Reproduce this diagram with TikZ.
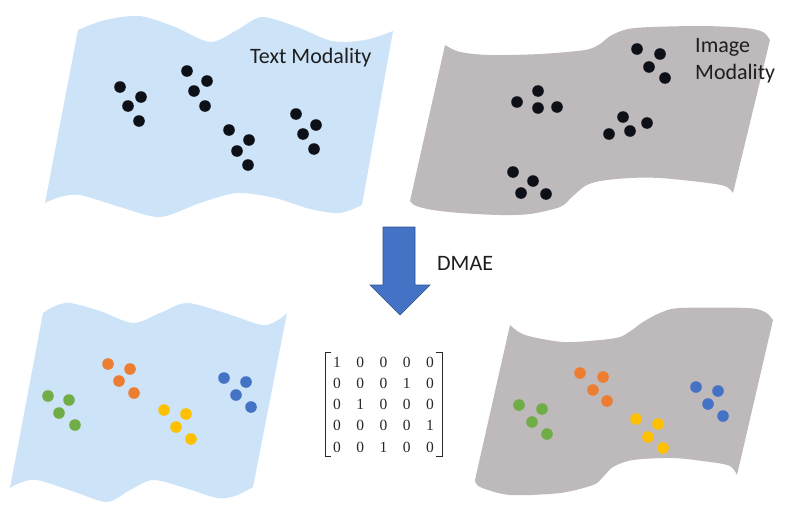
\documentclass[tikz,border=0pt]{standalone}
\usepackage{fontspec}
\newfontfamily\lblfont{Carlito}
\newfontfamily\matfont{Liberation Serif}
\usetikzlibrary{matrix}
\definecolor{flagblue}{RGB}{205,228,248}
\definecolor{flaggray}{RGB}{190,185,186}
\definecolor{dotblack}{RGB}{14,16,24}
\definecolor{dgreen}{RGB}{112,173,71}
\definecolor{dorange}{RGB}{237,125,49}
\definecolor{dyellow}{RGB}{255,192,0}
\definecolor{dblue}{RGB}{68,114,196}
\definecolor{arrowfill}{RGB}{68,114,196}
\definecolor{arrowedge}{RGB}{47,82,143}
\definecolor{lbltext}{RGB}{30,30,30}
\definecolor{mattext}{RGB}{40,40,40}
\tikzset{
  lbl/.style={font=\lblfont\fontsize{22}{27}\selectfont, text=lbltext, inner sep=0pt},
  bigdot/.style={fill=dotblack},
  cell/.style={minimum width=23.3pt, minimum height=21.25pt, inner sep=0pt, text=mattext,
    font=\matfont\fontsize{15.5}{18}\selectfont},
  bracket/.style={draw=mattext, line width=0.8pt},
}
\newcommand{\dotsfour}[9]{%
  \fill[#1] (#2,#3) circle (5.8pt) (#4,#5) circle (5.8pt) (#6,#7) circle (5.8pt) (#8,#9) circle (5.8pt);}
\begin{document}
\begin{tikzpicture}[x=1pt,y=-1pt]
\useasboundingbox (0,0) rectangle (787,514);
% ---------- top-left blue flag ----------
\fill[flagblue] plot[smooth] coordinates {(78,30) (105,20) (140,16) (175,27) (210,42) (237,30) (262,17) (297,27) (332,41) (365,40) (393,31)}
  -- plot[smooth] coordinates {(362,205) (340,213) (310,209) (275,198) (237,193) (200,203) (160,217) (120,207) (80,195) (60,197) (45,203)} -- cycle;
% ---------- top-right gray flag ----------
\fill[flaggray] plot[smooth] coordinates {(445,45) (460,52) (490,55) (540,54) (585,50) (600,44) (612,35) (635,28) (700,26) (745,28) (763,32) (770,40)}
  -- plot[smooth] coordinates {(733,193) (725,186) (700,182) (660,178) (630,178) (600,181) (585,186) (572,197) (560,207) (530,214) (500,215) (460,213) (433,210) (416,206) (410,201)} -- cycle;
% ---------- bottom-left blue flag ----------
\fill[flagblue] plot[smooth] coordinates {(43,313) (55,306) (70,303) (100,311) (133,323) (160,313) (187,303) (225,313) (262,325) (278,320) (287,313)}
  -- plot[smooth] coordinates {(253,487) (235,496) (217,498) (185,488) (153,480) (130,490) (107,502) (75,492) (37,480) (20,483) (10,488)} -- cycle;
% ---------- bottom-right gray flag ----------
\fill[flaggray] plot[smooth] coordinates {(510,325) (525,335) (563,342) (600,340) (620,337) (632,330) (643,322) (660,313) (680,308) (747,308) (765,312) (773,320)}
  -- plot[smooth] coordinates {(737,475) (730,466) (710,462) (673,458) (633,460) (613,467) (603,477) (593,485) (560,493) (510,495) (480,487) (475,480)} -- cycle;
% ---------- black dots, text modality ----------
\dotsfour{bigdot}{120}{87}{141}{97}{128}{106}{139}{121}
\dotsfour{bigdot}{187}{71}{207}{81}{194}{91}{205}{106}
\dotsfour{bigdot}{229}{130}{249}{140}{237}{151}{248}{165}
\dotsfour{bigdot}{296}{114}{316}{125}{303}{134}{314}{149}
% ---------- black dots, image modality ----------
\dotsfour{bigdot}{637}{49}{660}{54}{649}{67}{665}{78}
\dotsfour{bigdot}{538}{91}{517}{102}{538}{108}{557}{107}
\dotsfour{bigdot}{623}{117}{647}{123}{630}{131}{609}{134}
\dotsfour{bigdot}{513}{172}{533}{181}{521}{193}{546}{194}
% ---------- coloured dots, bottom-left ----------
\dotsfour{dgreen}{48}{396}{69}{400}{59}{413}{75}{425}
\dotsfour{dorange}{108}{364}{130}{369}{119}{381}{134}{393}
\dotsfour{dyellow}{164}{410}{186}{414}{176}{427}{191}{439}
\dotsfour{dblue}{224}{378}{246}{382}{236}{395}{251}{407}
% ---------- coloured dots, bottom-right ----------
\dotsfour{dorange}{580}{373}{603}{377}{593}{390}{607}{401}
\dotsfour{dgreen}{519}{405}{542}{409}{532}{422}{547}{434}
\dotsfour{dyellow}{636}{419}{658}{424}{648}{437}{663}{448}
\dotsfour{dblue}{696}{387}{718}{391}{708}{404}{723}{416}
% ---------- labels ----------
\node[lbl, anchor=base west] (textmod) at (250,63) {Text Modality};
\node[lbl, anchor=north west, align=left] (imgmod) at (695,38) {Image\\Modality};
\node[lbl, anchor=base west] (dmae) at (437,270) {DMAE};
% ---------- arrow ----------
\filldraw[fill=arrowfill, draw=arrowedge, line width=0.6pt, line join=miter]
  (383,227) -- (415,227) -- (415,285) -- (430,285) -- (400,315) -- (370,285) -- (383,285) -- cycle;
% ---------- matrix ----------
\matrix (M) [matrix of nodes, nodes={cell}, column sep=0pt, row sep=0pt, inner sep=0pt,
  anchor=center] at (383.5,404.5) {
1 & 0 & 0 & 0 & 0 \\
0 & 0 & 0 & 1 & 0 \\
0 & 1 & 0 & 0 & 0 \\
0 & 0 & 0 & 0 & 1 \\
0 & 0 & 1 & 0 & 0 \\
};
\draw[bracket] ([xshift=6pt,yshift=-1pt]M.north west) -- ([yshift=-1pt]M.north west) -- ([yshift=2pt]M.south west) -- ([xshift=6pt,yshift=2pt]M.south west);
\draw[bracket] ([xshift=-6pt,yshift=-1pt]M.north east) -- ([yshift=-1pt]M.north east) -- ([yshift=2pt]M.south east) -- ([xshift=-6pt,yshift=2pt]M.south east);
\end{tikzpicture}
\end{document}
